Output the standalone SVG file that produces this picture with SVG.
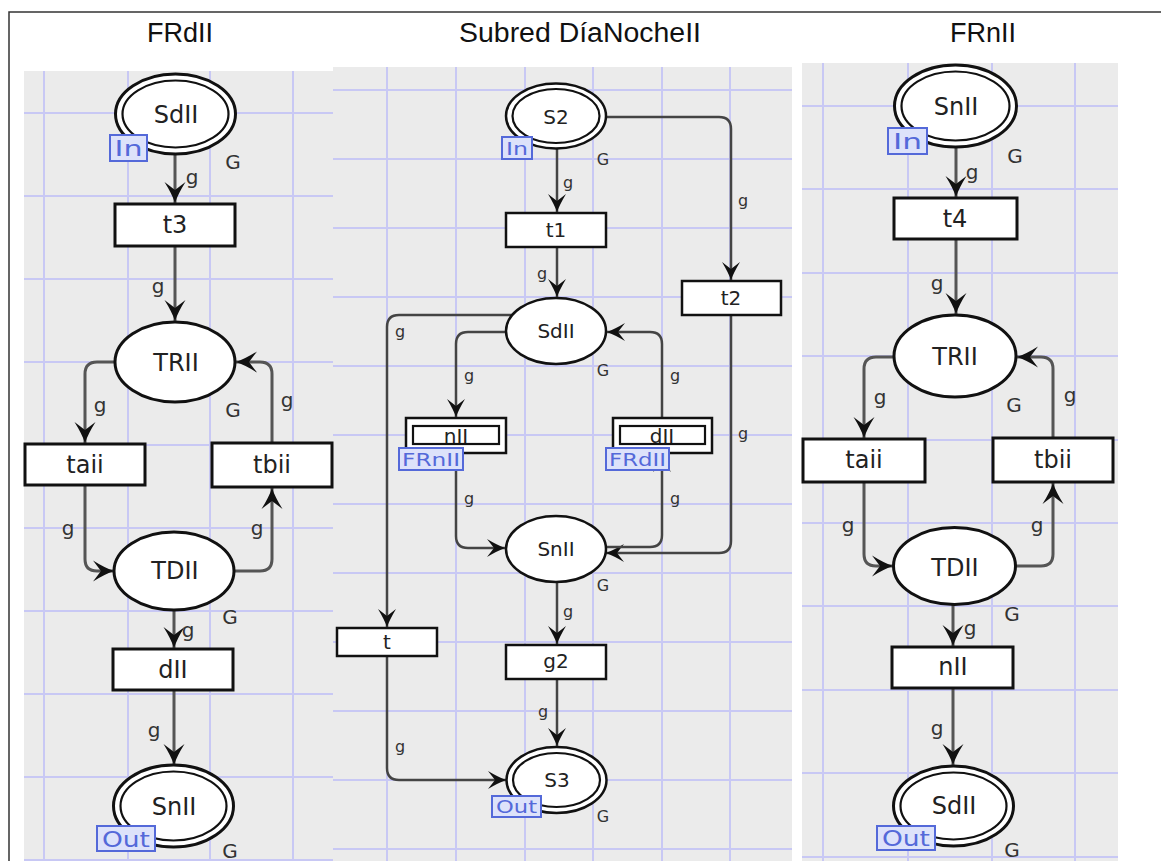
<svg xmlns="http://www.w3.org/2000/svg" width="1161" height="861" viewBox="0 0 1161 861">
  <style>
    .panel{fill:#ebebeb}
    .grid line{stroke:#c8c8f4;stroke-width:2}
    .title{font-family:"Liberation Sans",Arial,sans-serif;font-size:27px;fill:#111;text-anchor:middle}
    .lbl{font-family:"DejaVu Sans",Verdana,sans-serif;fill:#222;text-anchor:middle}
    .big{font-size:24px}
    .mid{font-size:20px}
    .ann{font-family:"DejaVu Sans",Verdana,sans-serif;fill:#333;text-anchor:middle;font-size:20px}
    .annm{font-family:"DejaVu Sans",Verdana,sans-serif;fill:#333;text-anchor:middle;font-size:16px}
    .shape{fill:#fff;stroke:#111;stroke-width:3}
    .shapem{fill:#fff;stroke:#111;stroke-width:2.5}
    .inner{fill:none;stroke:#111;stroke-width:2.2}
    .tag{fill:#dde2fa;stroke:#5469d9;stroke-width:2}
    .tagt{font-family:"DejaVu Sans",Verdana,sans-serif;fill:#5469d9;text-anchor:middle}
    .arc{fill:none;stroke:#555;stroke-width:3;marker-end:url(#ah)}
    .arcm{fill:none;stroke:#444;stroke-width:2.5;marker-end:url(#ahm)}
  </style>
  <defs>
    <marker id="ah" markerUnits="userSpaceOnUse" viewBox="-24 -12 26 24" markerWidth="26" markerHeight="24" refX="0" refY="0" orient="auto" overflow="visible">
      <path d="M0,0 Q-9,-3 -21,-10.5 L-13,0 L-21,10.5 Q-9,3 0,0 Z" fill="#111"/>
    </marker>
    <marker id="ahm" markerUnits="userSpaceOnUse" viewBox="-24 -12 26 24" markerWidth="26" markerHeight="24" refX="0" refY="0" orient="auto" overflow="visible">
      <path d="M0,0 Q-8,-3 -18,-9 L-11,0 L-18,9 Q-8,3 0,0 Z" fill="#111"/>
    </marker>
    <clipPath id="cl"><rect x="24" y="71" width="309" height="790"/></clipPath>
    <clipPath id="cm"><rect x="333" y="67" width="459" height="794"/></clipPath>
    <clipPath id="cr"><rect x="802" y="63" width="316" height="798"/></clipPath>
  </defs>

  <rect width="1161" height="861" fill="#fff"/>
  <!-- frame -->
  <path d="M9,861 V12 H1161" fill="none" stroke="#333" stroke-width="1.5"/>

  <!-- panel backgrounds -->
  <rect class="panel" x="24" y="71" width="309" height="790"/>
  <rect class="panel" x="333" y="67" width="459" height="794"/>
  <rect class="panel" x="802" y="63" width="316" height="798"/>

  <!-- grids -->
  <g class="grid" clip-path="url(#cl)">
    <line x1="44" y1="60" x2="44" y2="861"/><line x1="128" y1="60" x2="128" y2="861"/>
    <line x1="210" y1="60" x2="210" y2="861"/><line x1="293" y1="60" x2="293" y2="861"/>
    <line x1="20" y1="113" x2="340" y2="113"/><line x1="20" y1="196" x2="340" y2="196"/>
    <line x1="20" y1="279" x2="340" y2="279"/><line x1="20" y1="362" x2="340" y2="362"/>
    <line x1="20" y1="445" x2="340" y2="445"/><line x1="20" y1="528" x2="340" y2="528"/>
    <line x1="20" y1="611" x2="340" y2="611"/><line x1="20" y1="694" x2="340" y2="694"/>
    <line x1="20" y1="777" x2="340" y2="777"/><line x1="20" y1="860" x2="340" y2="860"/>
  </g>
  <g class="grid" clip-path="url(#cm)">
    <line x1="387" y1="60" x2="387" y2="861"/><line x1="456" y1="60" x2="456" y2="861"/>
    <line x1="525" y1="60" x2="525" y2="861"/><line x1="593" y1="60" x2="593" y2="861"/>
    <line x1="662" y1="60" x2="662" y2="861"/><line x1="730" y1="60" x2="730" y2="861"/>
    <line x1="330" y1="90" x2="800" y2="90"/><line x1="330" y1="159" x2="800" y2="159"/>
    <line x1="330" y1="228" x2="800" y2="228"/><line x1="330" y1="297" x2="800" y2="297"/>
    <line x1="330" y1="366" x2="800" y2="366"/><line x1="330" y1="435" x2="800" y2="435"/>
    <line x1="330" y1="504" x2="800" y2="504"/><line x1="330" y1="573" x2="800" y2="573"/>
    <line x1="330" y1="642" x2="800" y2="642"/><line x1="330" y1="711" x2="800" y2="711"/>
    <line x1="330" y1="780" x2="800" y2="780"/><line x1="330" y1="849" x2="800" y2="849"/>
  </g>
  <g class="grid" clip-path="url(#cr)">
    <line x1="823" y1="60" x2="823" y2="861"/><line x1="908" y1="60" x2="908" y2="861"/>
    <line x1="992" y1="60" x2="992" y2="861"/><line x1="1075" y1="60" x2="1075" y2="861"/>
    <line x1="800" y1="106" x2="1120" y2="106"/><line x1="800" y1="189" x2="1120" y2="189"/>
    <line x1="800" y1="273" x2="1120" y2="273"/><line x1="800" y1="356" x2="1120" y2="356"/>
    <line x1="800" y1="440" x2="1120" y2="440"/><line x1="800" y1="523" x2="1120" y2="523"/>
    <line x1="800" y1="606" x2="1120" y2="606"/><line x1="800" y1="690" x2="1120" y2="690"/>
    <line x1="800" y1="773" x2="1120" y2="773"/><line x1="800" y1="857" x2="1120" y2="857"/>
  </g>

  <!-- titles -->
  <text class="title" x="180" y="42">FRdII</text>
  <text class="title" x="580" y="42" textLength="242" lengthAdjust="spacingAndGlyphs">Subred DíaNocheII</text>
  <text class="title" x="983" y="42">FRnII</text>

  <!-- connectors -->
  <g id="connectors">
    <!-- FRdII -->
    <path class="arc" d="M175,154 L175,203"/>
    <path class="arc" d="M175,246 L175,321"/>
    <path class="arc" d="M115,362 L97,362 Q85,362 85,374 L85,443"/>
    <path class="arc" d="M85,485 L85,559 Q85,571 97,571 L114,571"/>
    <path class="arc" d="M235,571 L260,571 Q272,571 272,559 L272,488"/>
    <path class="arc" d="M272,443 L272,374 Q272,362 260,362 L236,362"/>
    <path class="arc" d="M174,610 L174,648"/>
    <path class="arc" d="M174,690 L174,765"/>
    <!-- Subred DiaNocheII -->
    <path class="arcm" d="M557,149 L557,212"/>
    <path class="arcm" d="M557,247 L557,297"/>
    <path class="arcm" d="M606,117 L719,117 Q731,117 731,129 L731,280"/>
    <path class="arcm" d="M731,315 L731,541 Q731,553 719,553 L606,553"/>
    <path class="arcm" d="M606,547 L650,547 Q662,547 662,535 L662,454"/>
    <path class="arcm" d="M662,418 L662,344 Q662,332 650,332 L607,332"/>
    <path class="arcm" d="M506,332 L468,332 Q456,332 456,344 L456,417"/>
    <path class="arcm" d="M456,453 L456,536 Q456,548 468,548 L505,548"/>
    <path class="arcm" d="M512,315 L399,315 Q387,315 387,327 L387,627"/>
    <path class="arcm" d="M387,656 L387,768 Q387,780 399,780 L506,780"/>
    <path class="arcm" d="M557,582 L557,644"/>
    <path class="arcm" d="M557,679 L557,746"/>
    <!-- FRnII -->
    <path class="arc" d="M956,147 L956,197"/>
    <path class="arc" d="M956,239 L956,314"/>
    <path class="arc" d="M894,357 L876,357 Q864,357 864,369 L864,438"/>
    <path class="arc" d="M864,482 L864,554 Q864,566 876,566 L893,566"/>
    <path class="arc" d="M1016,566 L1041,566 Q1053,566 1053,554 L1053,483"/>
    <path class="arc" d="M1053,438 L1053,369 Q1053,357 1041,357 L1017,357"/>
    <path class="arc" d="M953,604 L953,646"/>
    <path class="arc" d="M953,688 L953,765"/>
  </g>

  <!-- arc inscriptions -->
  <g id="inscriptions">
    <text class="ann" x="192" y="184">g</text>
    <text class="ann" x="158" y="293">g</text>
    <text class="ann" x="100" y="412">g</text>
    <text class="ann" x="287" y="407">g</text>
    <text class="ann" x="68" y="535">g</text>
    <text class="ann" x="257" y="535">g</text>
    <text class="ann" x="188" y="637">g</text>
    <text class="ann" x="154" y="737">g</text>

    <text class="annm" x="568" y="188">g</text>
    <text class="annm" x="743" y="206">g</text>
    <text class="annm" x="542" y="279">g</text>
    <text class="annm" x="400" y="337">g</text>
    <text class="annm" x="469" y="381">g</text>
    <text class="annm" x="675" y="381">g</text>
    <text class="annm" x="743" y="439">g</text>
    <text class="annm" x="469" y="504">g</text>
    <text class="annm" x="675" y="504">g</text>
    <text class="annm" x="568" y="617">g</text>
    <text class="annm" x="543" y="717">g</text>
    <text class="annm" x="400" y="752">g</text>

    <text class="ann" x="972" y="179">g</text>
    <text class="ann" x="937" y="290">g</text>
    <text class="ann" x="880" y="404">g</text>
    <text class="ann" x="1070" y="402">g</text>
    <text class="ann" x="848" y="532">g</text>
    <text class="ann" x="1037" y="532">g</text>
    <text class="ann" x="970" y="635">g</text>
    <text class="ann" x="937" y="735">g</text>
  </g>

  <!-- FRdII nodes -->
  <g id="frd-SdII">
    <ellipse class="shape" cx="175.5" cy="114" rx="60" ry="40"/>
    <ellipse class="inner" cx="175.5" cy="114" rx="53" ry="33.5"/>
    <text class="lbl big" x="176" y="123">SdII</text>
    <rect class="tag" x="110" y="135" width="37" height="26"/>
    <text class="tagt" x="128.5" y="156" font-size="22" textLength="28" lengthAdjust="spacingAndGlyphs">In</text>
    <text class="ann" x="233" y="169">G</text>
  </g>
  <g id="frd-t3">
    <rect class="shape" x="115" y="204" width="120" height="42"/>
    <text class="lbl big" x="175" y="233">t3</text>
  </g>
  <g id="frd-TRII">
    <ellipse class="shape" cx="175" cy="362" rx="60" ry="40"/>
    <text class="lbl big" x="176" y="371">TRII</text>
    <text class="ann" x="233" y="417">G</text>
  </g>
  <g id="frd-taii">
    <rect class="shape" x="25" y="444" width="120" height="41"/>
    <text class="lbl big" x="85" y="473">taii</text>
  </g>
  <g id="frd-tbii">
    <rect class="shape" x="212" y="443" width="120" height="44"/>
    <text class="lbl big" x="272" y="473">tbii</text>
  </g>
  <g id="frd-TDII">
    <ellipse class="shape" cx="174" cy="571" rx="60" ry="39"/>
    <text class="lbl big" x="175" y="579">TDII</text>
    <text class="ann" x="230" y="624">G</text>
  </g>
  <g id="frd-dII">
    <rect class="shape" x="113" y="649" width="120" height="41"/>
    <text class="lbl big" x="173" y="678">dII</text>
  </g>
  <g id="frd-SnII">
    <ellipse class="shape" cx="173.5" cy="806" rx="60" ry="41"/>
    <ellipse class="inner" cx="173.5" cy="806" rx="53" ry="34.5"/>
    <text class="lbl big" x="174" y="815">SnII</text>
    <rect class="tag" x="97" y="826" width="58" height="25"/>
    <text class="tagt" x="126" y="847" font-size="22" textLength="48" lengthAdjust="spacingAndGlyphs">Out</text>
    <text class="ann" x="230" y="858">G</text>
  </g>

  <!-- Subred DiaNocheII nodes -->
  <g id="sub-S2">
    <ellipse class="shapem" cx="556" cy="116" rx="50" ry="32.5"/>
    <ellipse class="inner" cx="556" cy="116" rx="43.5" ry="27"/>
    <text class="lbl mid" x="556" y="124">S2</text>
    <rect class="tag" x="502" y="137" width="30" height="22"/>
    <text class="tagt" x="517" y="155" font-size="18" textLength="22" lengthAdjust="spacingAndGlyphs">In</text>
    <text class="annm" x="603" y="165">G</text>
  </g>
  <g id="sub-t1">
    <rect class="shapem" x="506" y="213" width="100" height="34"/>
    <text class="lbl mid" x="556" y="237">t1</text>
  </g>
  <g id="sub-t2">
    <rect class="shapem" x="682" y="281" width="99" height="34"/>
    <text class="lbl mid" x="731" y="305">t2</text>
  </g>
  <g id="sub-SdII">
    <ellipse class="shapem" cx="556" cy="331" rx="50" ry="33"/>
    <text class="lbl mid" x="556" y="338">SdII</text>
    <text class="annm" x="603" y="376">G</text>
  </g>
  <g id="sub-nII">
    <rect class="shapem" x="406" y="418" width="100" height="35"/>
    <text class="lbl mid" x="456" y="443">nII</text>
    <rect class="inner" x="413" y="426" width="86" height="18"/>
    <rect class="tag" x="399" y="448" width="64" height="22"/>
    <text class="tagt" x="431" y="466" font-size="18" textLength="58" lengthAdjust="spacingAndGlyphs">FRnII</text>
  </g>
  <g id="sub-dII">
    <rect class="shapem" x="613" y="418" width="99" height="35"/>
    <text class="lbl mid" x="662" y="443">dII</text>
    <rect class="inner" x="620" y="426" width="85" height="18"/>
    <rect class="tag" x="606" y="448" width="63" height="22"/>
    <text class="tagt" x="637.5" y="466" font-size="18" textLength="57" lengthAdjust="spacingAndGlyphs">FRdII</text>
  </g>
  <g id="sub-SnII">
    <ellipse class="shapem" cx="556" cy="549" rx="50" ry="33"/>
    <text class="lbl mid" x="556" y="556">SnII</text>
    <text class="annm" x="603" y="591">G</text>
  </g>
  <g id="sub-t">
    <rect class="shapem" x="337" y="628" width="100" height="28"/>
    <text class="lbl mid" x="387" y="649">t</text>
  </g>
  <g id="sub-g2">
    <rect class="shapem" x="506" y="645" width="100" height="34"/>
    <text class="lbl mid" x="556" y="668">g2</text>
  </g>
  <g id="sub-S3">
    <ellipse class="shapem" cx="556.5" cy="780" rx="50" ry="33"/>
    <ellipse class="inner" cx="556.5" cy="780" rx="43.5" ry="27"/>
    <text class="lbl mid" x="557" y="787">S3</text>
    <rect class="tag" x="492" y="796" width="49" height="21"/>
    <text class="tagt" x="516.5" y="813" font-size="18" textLength="41" lengthAdjust="spacingAndGlyphs">Out</text>
    <text class="annm" x="603" y="822">G</text>
  </g>

  <!-- FRnII nodes -->
  <g id="frn-SnII">
    <ellipse class="shape" cx="955.5" cy="106" rx="61" ry="41"/>
    <ellipse class="inner" cx="955.5" cy="106" rx="54" ry="34.5"/>
    <text class="lbl big" x="956" y="115">SnII</text>
    <rect class="tag" x="888" y="128" width="39" height="26"/>
    <text class="tagt" x="907.5" y="149" font-size="22" textLength="29" lengthAdjust="spacingAndGlyphs">In</text>
    <text class="ann" x="1015" y="163">G</text>
  </g>
  <g id="frn-t4">
    <rect class="shape" x="894" y="198" width="123" height="41"/>
    <text class="lbl big" x="955" y="227">t4</text>
  </g>
  <g id="frn-TRII">
    <ellipse class="shape" cx="955" cy="356" rx="61" ry="41"/>
    <text class="lbl big" x="955" y="365">TRII</text>
    <text class="ann" x="1014" y="412">G</text>
  </g>
  <g id="frn-taii">
    <rect class="shape" x="803" y="439" width="122" height="43"/>
    <text class="lbl big" x="864" y="468">taii</text>
  </g>
  <g id="frn-tbii">
    <rect class="shape" x="993" y="438" width="120" height="44"/>
    <text class="lbl big" x="1053" y="468">tbii</text>
  </g>
  <g id="frn-TDII">
    <ellipse class="shape" cx="954.5" cy="566" rx="61" ry="38.5"/>
    <text class="lbl big" x="955" y="576">TDII</text>
    <text class="ann" x="1012" y="621">G</text>
  </g>
  <g id="frn-nII">
    <rect class="shape" x="892" y="647" width="121" height="41"/>
    <text class="lbl big" x="953" y="675">nII</text>
  </g>
  <g id="frn-SdII">
    <ellipse class="shape" cx="953.5" cy="806" rx="60" ry="40"/>
    <ellipse class="inner" cx="953.5" cy="806" rx="53" ry="33.5"/>
    <text class="lbl big" x="954" y="814">SdII</text>
    <rect class="tag" x="877" y="826" width="58" height="24"/>
    <text class="tagt" x="906" y="846" font-size="22" textLength="48" lengthAdjust="spacingAndGlyphs">Out</text>
    <text class="ann" x="1012" y="857">G</text>
  </g>
</svg>
